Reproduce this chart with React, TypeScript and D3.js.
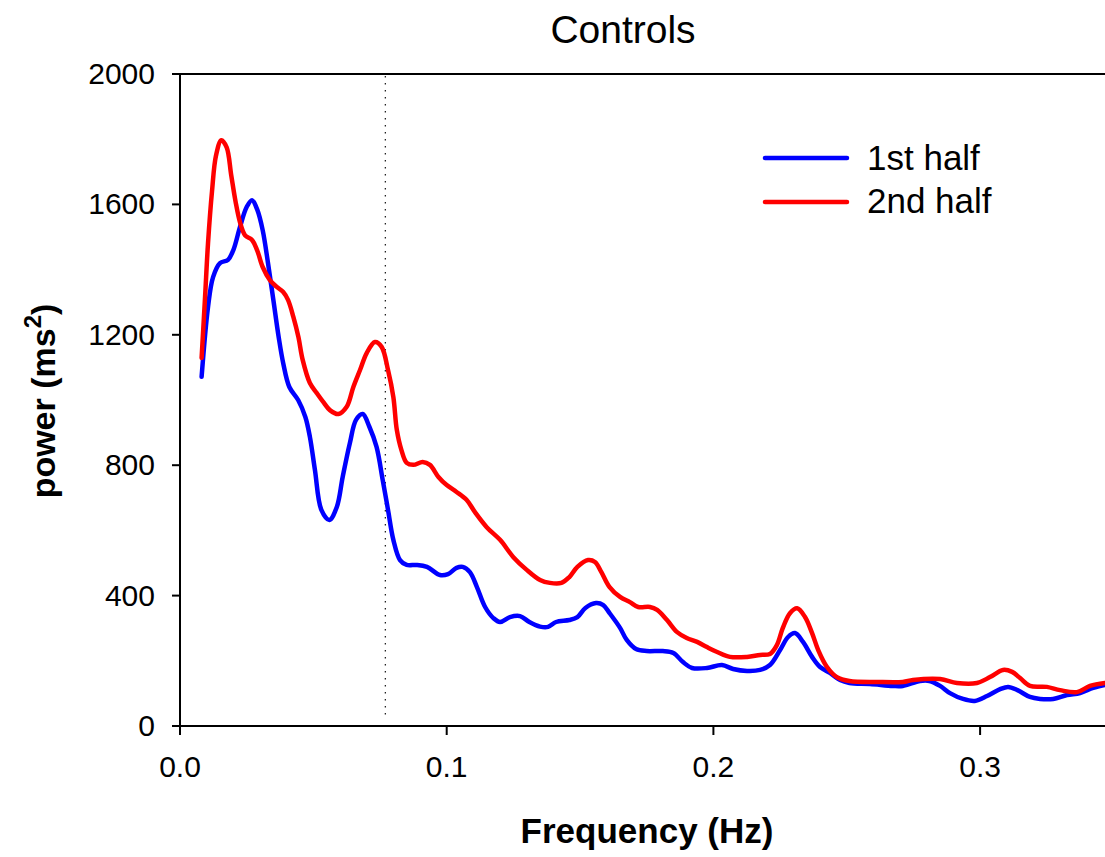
import React from "react";
import * as d3 from "d3";

const firstHalfFreq = [0.0081,0.0105,0.0124,0.015,0.018,0.020,0.0225,0.025,0.027,0.029,0.031,0.033,0.035,0.037,0.0387,0.041,0.0443,0.047,0.0487,0.0506,0.053,0.056,0.0588,0.061,0.0637,0.066,0.0685,0.071,0.0737,0.076,0.078,0.080,0.0825,0.085,0.0888,0.0926,0.0975,0.1005,0.1037,0.106,0.1087,0.1113,0.1144,0.1175,0.12,0.1237,0.1275,0.131,0.135,0.138,0.141,0.146,0.149,0.152,0.156,0.1587,0.161,0.165,0.1675,0.171,0.175,0.181,0.185,0.1886,0.192,0.1976,0.2032,0.2074,0.2126,0.2175,0.2212,0.225,0.228,0.2306,0.2336,0.237,0.24,0.2437,0.2475,0.251,0.2587,0.2673,0.271,0.2775,0.281,0.285,0.2887,0.2936,0.298,0.3026,0.3075,0.3105,0.314,0.3187,0.3225,0.3274,0.3326,0.3375,0.3424,0.3468];
const firstHalfPower = [1071,1285,1377,1420,1430,1460,1531,1592,1613,1583,1521,1420,1307,1193,1113,1040,1000,948,887,785,663,632,672,764,868,939,957,918,856,755,663,571,509,494,494,488,463,466,485,488,472,427,365,331,319,334,337,319,305,304,319,325,334,362,377,371,347,301,264,236,230,230,224,196,178,178,187,175,169,172,187,233,273,285,258,212,181,163,141,132,129,123,123,138,138,123,101,83,77,92,113,120,110,89,83,83,95,101,117,126];

const secondHalfFreq = [0.0081,0.0094,0.0105,0.012,0.0135,0.0155,0.0175,0.0192,0.0208,0.0225,0.0244,0.027,0.0289,0.031,0.0337,0.0363,0.0387,0.0405,0.0425,0.0444,0.046,0.0487,0.0513,0.0537,0.0562,0.0594,0.0625,0.065,0.0675,0.07,0.0731,0.0756,0.078,0.080,0.0813,0.083,0.085,0.0875,0.091,0.0937,0.0969,0.1,0.1037,0.1075,0.1106,0.115,0.12,0.125,0.130,0.135,0.1387,0.143,0.146,0.149,0.153,0.1556,0.158,0.161,0.165,0.1687,0.1718,0.1762,0.1789,0.1826,0.1864,0.190,0.1939,0.1976,0.2014,0.2062,0.2126,0.2175,0.2212,0.2238,0.226,0.2287,0.2314,0.2343,0.237,0.2393,0.2426,0.2463,0.251,0.2613,0.271,0.2748,0.285,0.2913,0.2988,0.3037,0.3086,0.312,0.315,0.3187,0.325,0.33,0.3363,0.3412,0.3468];
const secondHalfPower = [1129,1316,1480,1640,1750,1797,1775,1690,1610,1545,1505,1491,1460,1408,1368,1347,1331,1307,1255,1193,1123,1052,1021,994,969,957,979,1040,1092,1144,1178,1163,1092,1009,908,847,807,801,810,801,764,739,718,693,656,610,571,518,479,448,439,439,457,488,509,503,472,427,396,380,365,365,356,325,288,270,258,242,227,212,212,218,221,248,300,346,361,335,285,233,181,150,138,135,135,141,144,132,132,150,172,166,147,123,120,110,104,123,132];

const xTicks = [0, 0.1, 0.2, 0.3];
const xTickLabels = ["0.0", "0.1", "0.2", "0.3"];
const yTicks = [0, 400, 800, 1200, 1600, 2000];
const seriesNames = ["1st half", "2nd half"];
const seriesColors = ["#0000ff", "#ff0000"];
const boundaryFreq = 0.077;

const FONT = "'Liberation Sans', Arial, Helvetica, sans-serif";

export default function App() {
  const W = 1105, H = 857;
  const x = d3.scaleLinear().domain([0, 0.35]).range([180, 180 + 266.7 * 3.5]);
  const y = d3.scaleLinear().domain([0, 2000]).range([726, 74]);
  const line = d3.line<[number, number]>()
    .x(d => x(d[0]))
    .y(d => y(d[1]))
    .curve(d3.curveCatmullRom.alpha(0.5));
  const s1 = firstHalfFreq.map((f, i) => [f, firstHalfPower[i]] as [number, number]);
  const s2 = secondHalfFreq.map((f, i) => [f, secondHalfPower[i]] as [number, number]);
  const x0 = x(0), x1 = x(0.35);
  return (
    <svg width={W} height={H} style={{ position: "absolute", left: 0, top: 0, background: "#fff" }} fontFamily={FONT}>
      <rect x={0} y={0} width={W} height={H} fill="#fff" />
      <text x={623} y={43} fontSize={39} textAnchor="middle" fill="#000">Controls</text>
      <line x1={x(boundaryFreq)} x2={x(boundaryFreq)} y1={y(2000) + 2} y2={y(0) - 6}
        stroke="#222" strokeWidth={1.3} strokeDasharray="1.4,5.6" />
      <path d={line(s1) || ""} fill="none" stroke={seriesColors[0]} strokeWidth={4.5} strokeLinejoin="round" strokeLinecap="round" />
      <path d={line(s2) || ""} fill="none" stroke={seriesColors[1]} strokeWidth={4.5} strokeLinejoin="round" strokeLinecap="round" />
      <line x1={x0} x2={x0} y1={y(2000)} y2={y(0)} stroke="#000" strokeWidth={2} />
      <line x1={x0 - 8} x2={x1} y1={y(0)} y2={y(0)} stroke="#000" strokeWidth={2} />
      <line x1={x0 - 8} x2={x1} y1={y(2000)} y2={y(2000)} stroke="#000" strokeWidth={2} />
      {yTicks.map(t => (
        <g key={"y" + t}>
          <line x1={x0 - 8} x2={x0} y1={y(t)} y2={y(t)} stroke="#000" strokeWidth={2} />
          <text x={155} y={y(t) + 10} fontSize={30} textAnchor="end" fill="#000">{t}</text>
        </g>
      ))}
      {xTicks.map((t, i) => (
        <g key={"x" + t}>
          <line x1={x(t)} x2={x(t)} y1={y(0)} y2={y(0) + 9} stroke="#000" strokeWidth={2} />
          <text x={x(t)} y={777} fontSize={30} textAnchor="middle" fill="#000">{xTickLabels[i]}</text>
        </g>
      ))}
      <text x={647} y={843} fontSize={35} fontWeight="bold" textAnchor="middle" fill="#000">Frequency (Hz)</text>
      <text transform="translate(55,401) rotate(-90)" fontSize={34} fontWeight="bold" textAnchor="middle" fill="#000">
        power (ms<tspan fontSize={24} dy={-14}>2</tspan><tspan dy={14}>)</tspan>
      </text>
      {seriesNames.map((n, i) => (
        <g key={n}>
          <line x1={765} x2={847} y1={158 + i * 44} y2={158 + i * 44} stroke={seriesColors[i]} strokeWidth={4.5} strokeLinecap="round" />
          <text x={867} y={170 + i * 43} fontSize={35} fill="#000">{n}</text>
        </g>
      ))}
    </svg>
  );
}
